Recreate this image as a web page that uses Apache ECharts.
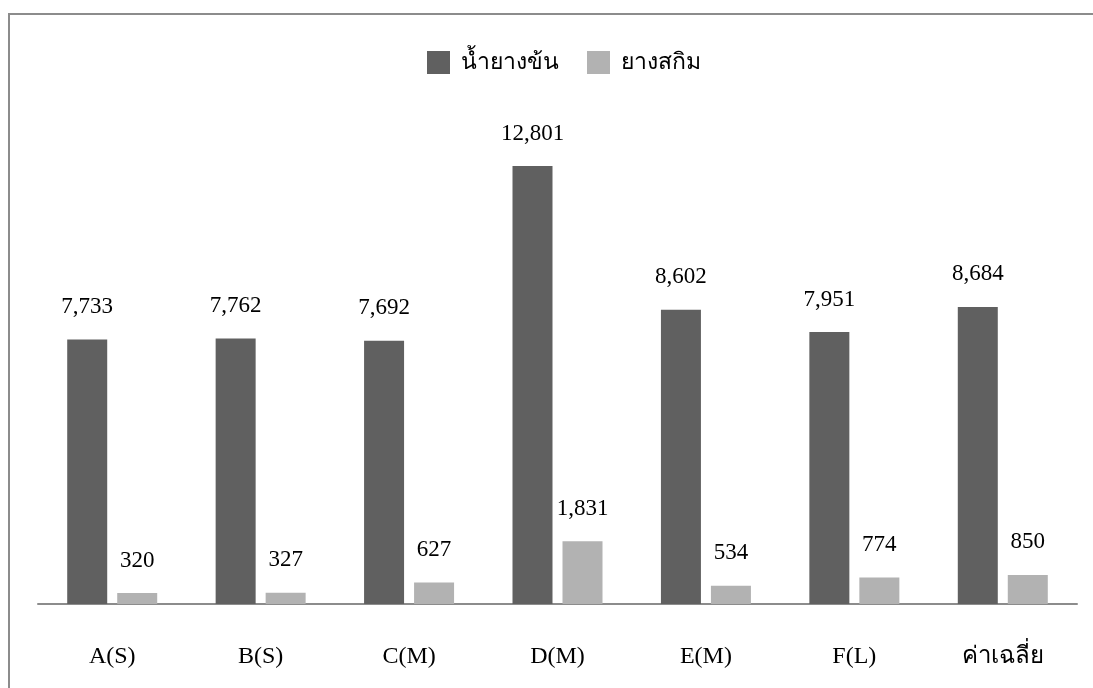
<!DOCTYPE html>
<html>
<head>
<meta charset="utf-8">
<script src="https://cdn.jsdelivr.net/npm/echarts@6/dist/echarts.min.js"></script>
<style>
  html, body { margin: 0; padding: 0; background: #fff; }
  #frame { position: absolute; left: 8px; top: 13px; width: 1200px; height: 800px;
           border: 2px solid #8c8c8c; box-sizing: border-box; }
  #chart { position: absolute; left: 0; top: 0; width: 1093px; height: 688px; }
</style>
</head>
<body>
<div id="frame"></div>
<div id="chart"></div>
<script>
// Production per group: concentrated latex vs skim rubber
const categories = ['A(S)', 'B(S)', 'C(M)', 'D(M)', 'E(M)', 'F(L)', 'ค่าเฉลี่ย'];
const seriesNames = ['น้ำยางข้น', 'ยางสกิม'];
const concentratedLatex = [7733, 7762, 7692, 12801, 8602, 7951, 8684];
const skimRubber = [320, 327, 627, 1831, 534, 774, 850];

const serif = '"Liberation Serif", "Times New Roman", serif';
const fmt = p => Number(p.value).toLocaleString('en-US');

const chart = echarts.init(document.getElementById('chart'));
chart.setOption({
  backgroundColor: 'transparent',
  animation: false,
  legend: {
    top: 46,
    left: 422,
    itemWidth: 23,
    itemHeight: 23,
    itemGap: 28,
    icon: 'rect',
    textStyle: { fontFamily: serif, fontSize: 23, color: '#000', padding: [0, 0, 0, 6] },
    data: seriesNames
  },
  grid: { left: 38, right: 16, top: 125, bottom: 84 },
  xAxis: {
    type: 'category',
    data: categories,
    axisLine: { lineStyle: { color: '#8c8c8c', width: 2 } },
    axisTick: { show: false },
    axisLabel: { fontFamily: serif, fontSize: 24, color: '#000', margin: 41 }
  },
  yAxis: {
    type: 'value',
    min: 0,
    max: 14000,
    show: false
  },
  series: [
    {
      name: seriesNames[0],
      type: 'bar',
      data: concentratedLatex,
      barWidth: 40,
      barGap: '25%',
      itemStyle: { color: '#606060' },
      label: { show: true, position: 'top', distance: 21, formatter: fmt,
               fontFamily: serif, fontSize: 23, color: '#000' }
    },
    {
      name: seriesNames[1],
      type: 'bar',
      data: skimRubber,
      barWidth: 40,
      itemStyle: { color: '#b2b2b2' },
      label: { show: true, position: 'top', distance: 21, formatter: fmt,
               fontFamily: serif, fontSize: 23, color: '#000' }
    }
  ]
});
</script>
</body>
</html>
